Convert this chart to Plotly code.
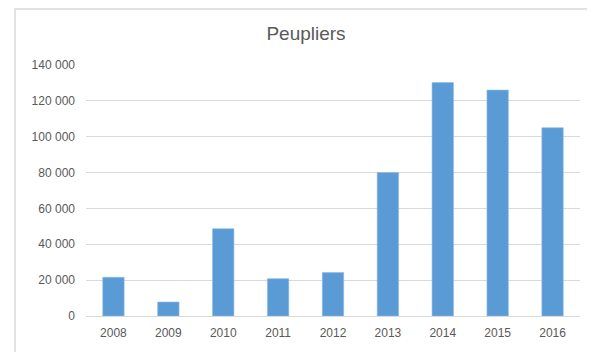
import plotly.graph_objects as go

# Data #
years = ["2008", "2009", "2010", "2011", "2012", "2013", "2014", "2015", "2016"]
peupliers = [21600, 7800, 48700, 20800, 24200, 80000, 130200, 126000, 105000]
y_ticks = [0, 20000, 40000, 60000, 80000, 100000, 120000, 140000]

# page body has an 8px margin, so the figure starts at (8, 8)
OFF = 8
W, H = 595 - OFF, 352 - OFF
m_l, m_r, m_t, m_b = 86 - OFF, 15, 65 - OFF, 36
pw, ph = W - m_l - m_r, H - m_t - m_b


def px_x(p):
    return (p - OFF - m_l) / pw


def px_y(p):
    return (H - m_b - (p - OFF)) / ph


fig = go.Figure()
fig.add_trace(go.Bar(
    x=years,
    y=peupliers,
    marker=dict(color="#5b9bd5", line=dict(color="#8fbbe6", width=0.6)),
    width=0.39,
))

fig.update_layout(
    width=W,
    height=H,
    margin=dict(l=m_l, r=m_r, t=m_t, b=m_b),
    paper_bgcolor="white",
    plot_bgcolor="white",
    separators=", ",
    font=dict(family="Liberation Sans, Arial, sans-serif", size=12, color="#595959"),
    title=dict(
        text="Peupliers",
        x=(306 - OFF) / W, xanchor="center", xref="container",
        y=1 - (33 - OFF) / H, yanchor="middle",
        font=dict(size=19, color="#595959"),
    ),
    showlegend=False,
    bargap=0.61,
    shapes=[dict(
        type="rect", xref="paper", yref="paper",
        x0=px_x(15), x1=px_x(620), y0=px_y(380), y1=px_y(9),
        line=dict(color="#d9d9d9", width=1.5),
        fillcolor="rgba(0,0,0,0)", layer="below",
    )],
)

fig.update_xaxes(
    showgrid=False,
    showline=True,
    linecolor="#d9d9d9",
    linewidth=1,
    ticks="",
    ticklabelstandoff=6,
)

fig.update_yaxes(
    range=[0, 140000],
    tickmode="array",
    tickvals=y_ticks,
    tickformat=",d",
    showgrid=True,
    gridcolor="#d9d9d9",
    gridwidth=1,
    zeroline=False,
    ticks="",
    ticklabelstandoff=10,
)

fig.write_html("out.html")
